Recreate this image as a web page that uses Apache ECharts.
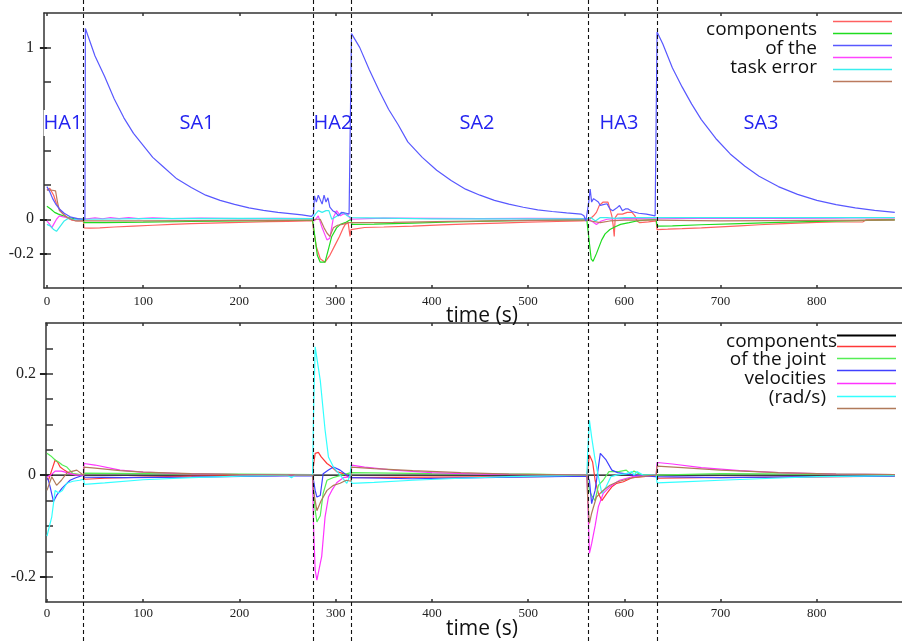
<!DOCTYPE html>
<html>
<head>
<meta charset="utf-8">
<script src="https://cdn.jsdelivr.net/npm/echarts@6/dist/echarts.min.js"></script>
<style>html,body{margin:0;padding:0;background:#fff}#c{width:902px;height:642px}</style>
</head>
<body>
<div id="c"></div>
<script>
// ---------- phase boundaries (s) and labels ----------
const phaseBounds = [38, 276, 316, 562, 634];
const phaseNames = ['HA1', 'SA1', 'HA2', 'SA2', 'HA3', 'SA3'];
const xTickValues = [0, 100, 200, 300, 400, 500, 600, 700, 800];
const topYLabels = [-0.2, 0, 1];
const topYTicks = [-0.2, 0, 0.2, 0.4, 0.6, 0.8, 1];
const botYLabels = [-0.2, 0, 0.2];
const botYTicks = [-0.2, -0.15, -0.1, -0.05, 0, 0.05, 0.1, 0.15, 0.2, 0.25];

// ---------- top: components of the task error ----------
const topRed = [[0,0.17],[3,0.18],[5,0.19],[7,0.14],[10,0.09],[13,0.06],[17,0.03],[21,0.01],[26,-0.005],[32,-0.01],[38,-0.01],
[38.5,-0.05],[45,-0.052],[55,-0.05],[70,-0.045],[90,-0.04],[110,-0.035],[130,-0.03],[150,-0.026],[170,-0.023],[190,-0.02],[210,-0.017],[230,-0.014],[250,-0.012],[270,-0.01],[276,-0.01],
[277,-0.06],[280,-0.16],[284,-0.23],[289,-0.25],[294,-0.21],[299,-0.155],[304,-0.1],[308,-0.05],[310,-0.03],[313,-0.02],[315,-0.1],[316,-0.06],
[317,-0.05],[330,-0.048],[350,-0.045],[380,-0.04],[410,-0.033],[440,-0.027],[470,-0.022],[500,-0.017],[530,-0.013],[555,-0.01],[561,-0.008],
[564,0.0],[568,0.02],[571,0.04],[574,0.08],[578,0.1],[580,0.11],[583,0.1],[585,0.06],[587,0.02],[588.5,-0.04],[589.5,-0.1],[590.5,0.01],[593,0.03],[598,0.03],[603,0.04],[608,0.04],[611,0.02],[613,-0.01],[616,-0.02],[625,-0.015],[633,-0.01],
[634,-0.06],[645,-0.058],[660,-0.055],[680,-0.05],[700,-0.044],[720,-0.038],[740,-0.032],[760,-0.027],[780,-0.022],[800,-0.018],[820,-0.016],[848,-0.015],[851,-0.004],[865,-0.002],[881,0.0]];
const topGreen = [[0,0.075],[4,0.06],[8,0.04],[12,0.03],[17,0.02],[22,0.01],[28,0.004],[38,0.0],
[38.5,-0.02],[60,-0.02],[100,-0.017],[150,-0.013],[200,-0.009],[250,-0.006],[276,-0.005],
[277,-0.04],[281,-0.21],[284,-0.25],[289,-0.25],[292.5,-0.175],[296,-0.1],[301,-0.05],[305,-0.03],[310,-0.02],[316,0.0],
[317,-0.03],[340,-0.028],[380,-0.022],[420,-0.016],[460,-0.011],[500,-0.007],[540,-0.004],[561,-0.003],
[563,0.0],[565.5,-0.23],[567.5,-0.245],[571,-0.2],[576.5,-0.12],[580,-0.085],[585,-0.06],[590,-0.045],[596,-0.03],[605,-0.02],[613,-0.01],[622,-0.005],[633,0.0],
[634,-0.04],[650,-0.038],[680,-0.032],[720,-0.025],[760,-0.018],[800,-0.012],[840,-0.008],[881,-0.004]];
const topBlue = [[0,0.19],[3,0.16],[6,0.12],[9,0.09],[13,0.06],[18,0.035],[25,0.012],[32,0.004],[39.5,0.0],
[40,1.11],[45,1.03],[50,0.95],[60,0.83],[70,0.7],[80,0.59],[90,0.5],[100,0.43],[110,0.36],[120,0.31],[135,0.235],[150,0.185],[165,0.14],[180,0.11],[195,0.087],[210,0.066],[225,0.052],[240,0.04],[255,0.031],[265,0.025],[275,0.017],
[277,0.03],[278,0.136],[280,0.1],[282,0.14],[284,0.13],[286,0.088],[288,0.14],[290,0.1],[292,0.125],[294,0.07],[297,0.05],[300,0.04],[303,0.02],[306,0.04],[308,0.05],[311,0.035],[314,0.03],[316,0.02],
[316.5,1.08],[325,1.0],[335,0.87],[345,0.75],[355,0.64],[365,0.55],[375,0.45],[390,0.36],[405,0.285],[420,0.225],[435,0.175],[450,0.14],[465,0.11],[480,0.088],[495,0.07],[510,0.055],[525,0.045],[540,0.037],[555,0.03],[558,0.02],[560,-0.01],[562,0.0],
[563,0.1],[564.5,0.175],[566,0.1],[568,0.12],[570,0.13],[573,0.1],[575,0.08],[578,0.085],[582,0.09],[585,0.06],[588,0.05],[592,0.065],[595,0.08],[598,0.05],[601,0.06],[604,0.06],[608,0.045],[615,0.035],[623,0.03],[632,0.02],
[634,1.09],[640,1.02],[650,0.88],[660,0.77],[670,0.67],[680,0.58],[695,0.47],[710,0.38],[725,0.31],[740,0.25],[760,0.19],[780,0.145],[800,0.11],[820,0.085],[840,0.066],[860,0.052],[881,0.04]];
const topMagenta = [[0,-0.01],[3,-0.03],[5,-0.05],[7,-0.03],[10,0.0],[13,0.02],[16,0.015],[20,0.01],[25,0.0],[30,-0.005],[38,0.0],
[40,0.0],[50,0.008],[58,0.003],[66,0.01],[75,0.004],[85,0.01],[95,0.004],[110,0.008],[130,0.004],[160,0.006],[200,0.004],[240,0.005],[276,0.004],
[278,-0.01],[282,0.02],[286,-0.05],[291,-0.12],[294,-0.11],[297.7,0.01],[301,0.05],[305,0.02],[308,0.03],[311.6,0.03],[316,0.0],
[317,0.005],[350,0.006],[400,0.005],[450,0.004],[500,0.005],[561,0.004],
[566,-0.01],[571,-0.03],[576,-0.01],[582,0.0],[595,0.005],[610,0.004],[633,0.003],
[634,0.005],[700,0.006],[760,0.005],[820,0.006],[850,0.01],[881,0.008]];
const topCyan = [[0,-0.03],[4,-0.04],[7,-0.06],[10,-0.07],[14,-0.04],[18,-0.01],[22,0.005],[27,0.0],[33,-0.005],[38,0.0],
[39,0.003],[100,0.004],[200,0.005],[276,0.004],
[279,0.03],[282,0.05],[286,0.04],[290,0.05],[293,0.05],[296,0.0],[298,-0.01],[302,0.02],[305,0.03],[308,0.04],[312,0.02],[316,0.01],
[317,0.002],[400,0.002],[500,0.003],[561,0.002],
[565,0.01],[570,-0.01],[575,0.01],[582,0.01],[590,0.005],[600,0.01],[615,0.01],[633,0.01],
[634,0.008],[700,0.009],[800,0.01],[881,0.01]];
const topBrown = [[0,0.17],[4,0.17],[9,0.165],[11,0.1],[13,0.05],[17,0.03],[21,0.01],[25,0.0],[30,-0.01],[38,-0.01],
[39,-0.01],[100,-0.01],[200,-0.007],[276,-0.005],
[280,0.0],[284,0.0],[288,-0.05],[291,-0.08],[294,-0.1],[297.7,-0.05],[302,-0.035],[307,-0.03],[313,-0.02],[316,-0.02],
[317,-0.02],[360,-0.018],[420,-0.012],[480,-0.008],[540,-0.005],[561,-0.005],
[565,-0.01],[575,-0.02],[585,-0.01],[600,-0.005],[633,-0.005],
[634,-0.01],[700,-0.01],[800,-0.007],[881,-0.005]];

// ---------- bottom: components of the joint velocities (rad/s) ----------
const botBlack = [[0,0.0],[38,0.0],[276,0.0],[316,0.0],[562,0.0],[634,0.0],[881,0.0]];
const botRed = [[0,-0.005],[1.5,-0.01],[5,0.01],[8.5,0.03],[11,0.026],[13.7,0.016],[18,0.01],[24,0.003],[38,0.0],
[39,-0.008],[60,-0.006],[100,-0.004],[150,-0.002],[276,0.0],
[277,0.02],[278.7,0.043],[282,0.045],[285,0.036],[291,0.023],[296,0.016],[301,0.007],[308,0.003],[313,-0.003],[316,-0.005],
[317,-0.005],[400,-0.004],[500,-0.003],[561,-0.002],
[562,0.0],[563.7,0.04],[567,0.026],[569.6,-0.01],[573,-0.036],[576.6,-0.05],[581.8,-0.036],[587,-0.023],[592,-0.016],[599,-0.013],[608,-0.005],[620,-0.003],[633,0.0],
[634,-0.006],[680,-0.005],[760,-0.004],[881,-0.002]];
const botGreen = [[0,0.043],[4,0.038],[8.5,0.03],[12,0.026],[16,0.02],[20.7,0.016],[27,0.003],[38,0.0],
[39,0.004],[100,0.003],[200,0.002],[276,0.001],
[277,-0.03],[278.7,-0.069],[280.5,-0.092],[284,-0.08],[287,-0.036],[291,-0.01],[297,-0.005],[306,0.0],[316,0.005],
[317,0.004],[400,0.003],[500,0.002],[561,0.0],
[562,0.0],[563.7,-0.03],[566,-0.04],[569.6,-0.05],[573,-0.02],[578,-0.01],[584,0.007],[594,0.007],[602,0.01],[606,0.003],[610,0.008],[618,0.0],[633,0.0],
[634,0.003],[700,0.003],[800,0.002],[881,0.001]];
const botBlue = [[0,-0.005],[1.5,-0.01],[3.3,-0.023],[6.8,-0.052],[10,-0.04],[15.5,-0.026],[24,-0.01],[30,-0.005],[38,0.0],
[39,-0.004],[80,-0.005],[150,-0.004],[220,-0.002],[276,-0.001],
[277,-0.01],[278.7,-0.03],[280.5,-0.043],[284,-0.04],[287,0.003],[292.5,0.01],[297.7,0.016],[304.6,0.01],[311.6,0.0],[316,-0.005],
[317,-0.008],[380,-0.007],[450,-0.005],[520,-0.003],[561,-0.002],
[562,0.0],[563.7,-0.01],[566,-0.056],[569.6,-0.03],[575,0.043],[581,0.03],[587,0.01],[593,0.005],[610,0.0],[633,-0.003],
[634,-0.005],[700,-0.005],[800,-0.003],[881,-0.002]];
const botMagenta = [[0,-0.003],[4,0.0],[8.5,0.008],[15,0.008],[20.7,0.005],[30,0.0],[38,0.0],
[38.5,0.023],[50,0.02],[76,0.01],[100,0.006],[140,0.003],[200,0.001],[276,0.0],
[277,-0.1],[278.7,-0.187],[280.5,-0.207],[284,-0.174],[285.5,-0.16],[289,-0.082],[292.5,-0.043],[296,-0.03],[301,-0.015],[308,-0.005],[316,-0.003],
[316.5,0.02],[330,0.016],[360,0.01],[400,0.005],[450,0.002],[500,0.001],[561,0.0],
[562,-0.05],[563.7,-0.154],[566,-0.135],[569.6,-0.1],[573,-0.062],[578,-0.036],[585,-0.023],[595,-0.01],[608,-0.003],[633,0.0],
[634,0.025],[650,0.022],[680,0.015],[720,0.009],[760,0.005],[820,0.002],[881,0.001]];
const botCyan = [[0,-0.12],[1.5,-0.118],[5,-0.082],[8.5,-0.03],[12,-0.035],[16,-0.03],[20.7,-0.016],[27,-0.012],[34,-0.01],[38,-0.008],
[39,-0.018],[60,-0.015],[100,-0.009],[150,-0.005],[200,-0.002],[250,0.0],[254,-0.005],[258,0.0],[276,0.0],
[277,0.12],[278.7,0.253],[284,0.187],[289,0.089],[292.5,0.036],[297.7,0.016],[306,-0.003],[311.6,-0.016],[315,0.0],[316,0.02],
[316.5,-0.016],[340,-0.014],[380,-0.01],[430,-0.006],[480,-0.003],[561,0.0],
[562,0.05],[563.7,0.108],[566,0.075],[569.6,0.03],[573,-0.003],[576.6,-0.036],[581,-0.023],[586,-0.003],[592,0.0],[602,0.003],[608,0.007],[610,0.0],[613,0.007],[620,0.0],[633,0.0],
[634,-0.015],[660,-0.013],[700,-0.01],[740,-0.007],[800,-0.003],[881,-0.001]];
const botBrown = [[0,-0.03],[5,-0.003],[10,-0.02],[15,-0.01],[21,0.005],[31,0.01],[38,0.0],
[38.5,0.016],[50,0.014],[76,0.009],[100,0.006],[150,0.003],[200,0.001],[276,0.0],
[277,-0.03],[278.7,-0.05],[280.5,-0.07],[285,-0.05],[291,-0.03],[297.7,-0.02],[304.6,-0.016],[311,-0.01],[316,-0.012],
[316.5,0.016],[340,0.013],[380,0.009],[430,0.005],[480,0.002],[561,0.0],
[562,-0.05],[563.7,-0.095],[566,-0.075],[571,-0.043],[578,-0.03],[585,-0.02],[593,-0.013],[606,-0.006],[620,-0.002],[633,0.0],
[634,0.018],[660,0.015],[700,0.01],[760,0.005],[820,0.002],[881,0.001]];

const topColors = ['#ff6060', '#1fdc1f', '#5858ff', '#ff44ff', '#38eeee', '#bb7a5e'];
const botColors = ['#000000', '#ff3838', '#55ee55', '#4040ff', '#ff33ff', '#33ffff', '#b07a5a'];

const chart = echarts.init(document.getElementById('c'), null, {renderer: 'canvas'});
const serif = 'Liberation Serif';
const sans = 'Open Sans';
const axisLineStyle = {color: '#333', width: 1.5};

function xAx(gridIndex, min, pos, labels, margin) {
  return {
    type: 'value', gridIndex, min, max: 888.5, position: pos,
    axisLine: {show: true, onZero: false, lineStyle: axisLineStyle},
    axisTick: {show: true, inside: true, length: 3, customValues: xTickValues, lineStyle: {color: '#333', width: 1.5}},
    axisLabel: labels ? {show: true, customValues: xTickValues, fontFamily: serif, fontSize: 13, color: '#222', margin} : {show: false},
    splitLine: {show: false}
  };
}
function yAx(gridIndex, min, max, ticks, labels, outside) {
  if (outside) {
    return {
      type: 'value', gridIndex, min, max, position: 'left',
      axisLine: {show: false},
      axisTick: {show: true, inside: false, length: 7, customValues: labels, lineStyle: {color: '#222', width: 2}},
      axisLabel: {show: false}, splitLine: {show: false}
    };
  }
  return {
    type: 'value', gridIndex, min, max, position: 'left',
    axisLine: {show: true, onZero: false, lineStyle: axisLineStyle},
    axisTick: {show: true, inside: true, length: 7, customValues: ticks, lineStyle: {color: '#333', width: 1.5}},
    axisLabel: {show: true, customValues: labels, fontFamily: serif, fontSize: 16, color: '#222', margin: 10},
    splitLine: {show: false}
  };
}

const topData = [topRed, topGreen, topBlue, topMagenta, topCyan, topBrown];
const botData = [botBlack, botRed, botGreen, botBlue, botMagenta, botCyan, botBrown];
const series = [];
topData.forEach((d, i) => series.push({
  type: 'line', xAxisIndex: 0, yAxisIndex: 0, data: d, showSymbol: false, symbol: 'none',
  lineStyle: {color: topColors[i], width: 1.2}, z: 2 + (i === 2 ? 5 : 0)
}));
botData.forEach((d, i) => series.push({
  type: 'line', xAxisIndex: 2, yAxisIndex: 2, data: d, showSymbol: false, symbol: 'none',
  lineStyle: {color: botColors[i], width: 1.2}, z: i === 0 ? 1 : 2
}));

chart.setOption({
  animation: false,
  backgroundColor: '#fff',
  grid: [
    {left: 44, top: 13, right: 0, height: 275},
    {left: 46, top: 323, right: 0, height: 279}
  ],
  xAxis: [
    xAx(0, -3, 'bottom', true, 7),
    xAx(0, -3, 'top', false, 0),
    xAx(1, -1, 'bottom', true, 5),
    xAx(1, -1, 'top', false, 0)
  ],
  yAxis: [
    yAx(0, -0.4, 1.2, topYTicks, topYLabels, false),
    yAx(0, -0.4, 1.2, topYTicks, topYLabels, true),
    yAx(1, -0.25, 0.3, botYTicks, botYLabels, false),
    yAx(1, -0.25, 0.3, botYTicks, botYLabels, true)
  ],
  series
});

// ---------- annotations ----------
const g = [];
// dashed phase boundaries through both panels, positioned by the x scale
phaseBounds.forEach(b => {
  const px = Math.round(chart.convertToPixel({xAxisIndex: 0}, b)) + 0.5;
  g.push({type: 'line', z: 60, silent: true, shape: {x1: px, y1: 0, x2: px, y2: 642},
    style: {stroke: '#111', lineWidth: 1.1, lineDash: [4, 3]}});
});
// phase labels
const phaseLabelX = [63, 197, 333, 477, 619, 761];
phaseNames.forEach((n, i) => {
  const st = {text: n, fontFamily: sans, fontSize: 20, fill: '#2323f0',
    align: 'center', verticalAlign: 'middle', textAlign: 'center', textVerticalAlign: 'middle'};
  if (i === 0) { st.backgroundColor = '#fff'; st.padding = [3, 0]; }
  g.push({type: 'text', z: 70, x: phaseLabelX[i], y: 123, style: st});
});
// axis titles
[[482, 316], [482, 629]].forEach(p => g.push({type: 'text', z: 70, x: p[0], y: p[1],
  style: {text: 'time (s)', fontFamily: sans, fontSize: 21, fill: '#111', align: 'center', verticalAlign: 'middle', textAlign: 'center', textVerticalAlign: 'middle'}}));
// top legend
const topLegendText = ['components', 'of the', 'task error'];
const topLegendTextY = [30, 49, 68];
topLegendText.forEach((t, i) => g.push({type: 'text', z: 70, x: 817, y: topLegendTextY[i],
  style: {text: t, fontFamily: sans, fontSize: 19, fill: '#111', align: 'right', verticalAlign: 'middle', textAlign: 'right', textVerticalAlign: 'middle'}}));
const topLegendLineY = [21, 33, 45, 57, 69, 81];
topColors.forEach((c, i) => g.push({type: 'line', z: 70, shape: {x1: 833, y1: topLegendLineY[i] + 0.5, x2: 892, y2: topLegendLineY[i] + 0.5},
  style: {stroke: c, lineWidth: 1.3}}));
// bottom legend
const botLegendText = ['components', 'of the joint', 'velocities', '(rad/s)'];
const botLegendTextX = [837, 826, 826, 826];
const botLegendTextY = [342, 360, 379, 398];
botLegendText.forEach((t, i) => g.push({type: 'text', z: 70, x: botLegendTextX[i], y: botLegendTextY[i],
  style: {text: t, fontFamily: sans, fontSize: 19, fill: '#111', align: 'right', verticalAlign: 'middle', textAlign: 'right', textVerticalAlign: 'middle'}}));
const botLegendLineY = [335, 346, 358, 370, 383, 396, 408];
botColors.forEach((c, i) => g.push({type: 'line', z: 70, shape: {x1: 837, y1: botLegendLineY[i] + 0.5, x2: 896, y2: botLegendLineY[i] + 0.5},
  style: {stroke: c, lineWidth: i === 0 ? 2.2 : 1.3}}));

chart.setOption({graphic: g});
</script>
</body>
</html>
